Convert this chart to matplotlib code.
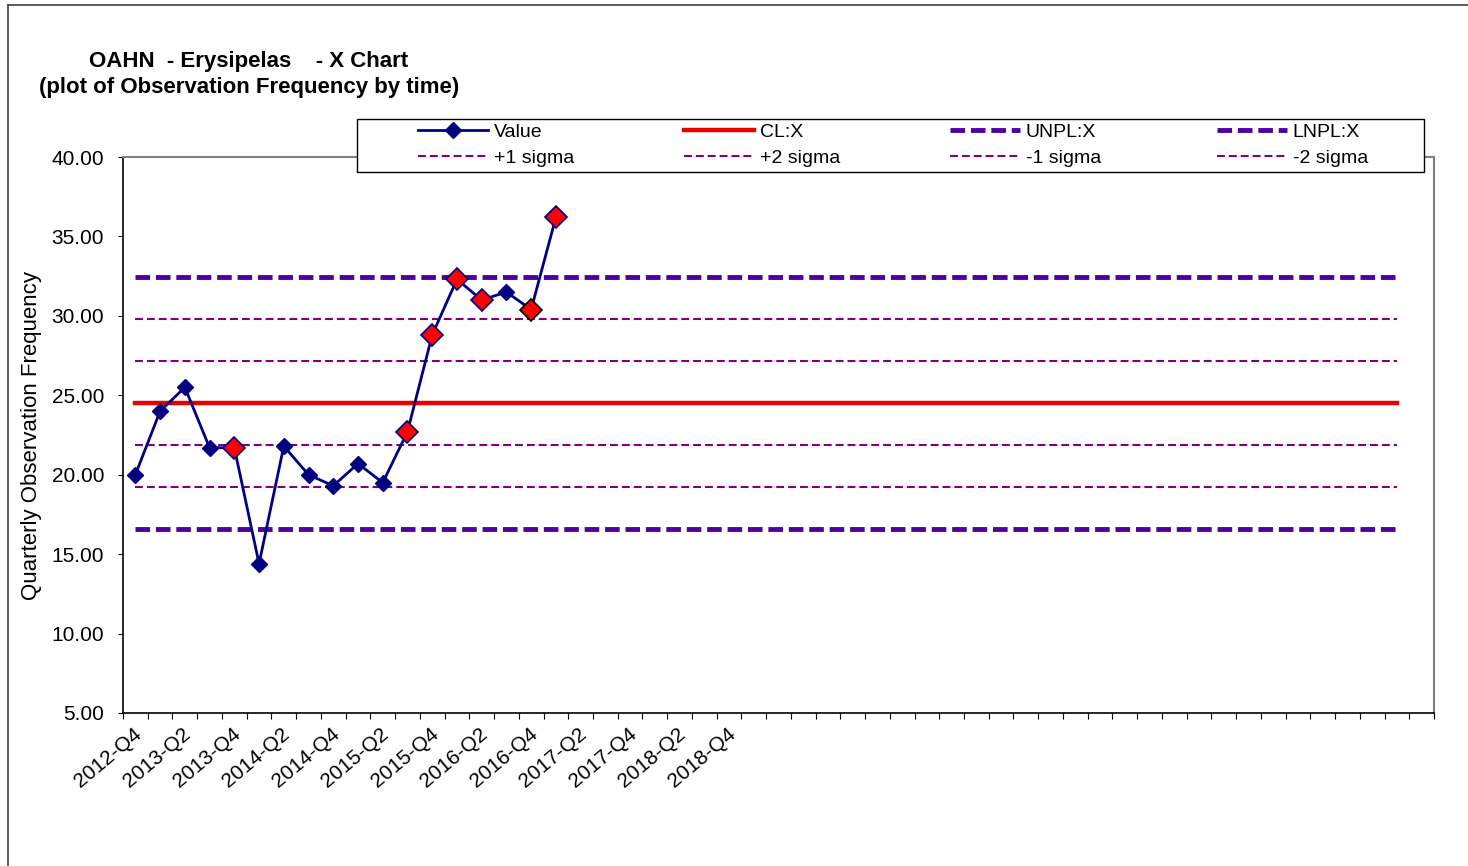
import matplotlib.pyplot as plt
import numpy as np
from matplotlib.lines import Line2D
from matplotlib.patches import Rectangle

plt.rcParams["font.family"] = ["Liberation Sans", "DejaVu Sans"]

# quarterly observations, 2012-Q4 .. 2017-Q1
values = [20.0, 24.0, 25.5, 21.7, 21.7, 14.4, 21.8, 20.0, 19.3, 20.7,
          19.5, 22.7, 28.8, 32.3, 31.0, 31.5, 30.4, 36.2]
flagged = [4, 11, 12, 13, 14, 16, 17]
tick_labels = ["2012-Q4", "2013-Q2", "2013-Q4", "2014-Q2", "2014-Q4", "2015-Q2",
               "2015-Q4", "2016-Q2", "2016-Q4", "2017-Q2", "2017-Q4", "2018-Q2",
               "2018-Q4"]

center_line = 24.51
unpl = 32.45
lnpl = 16.58
plus_1 = 27.16
plus_2 = 29.80
minus_1 = 21.87
minus_2 = 19.22

n_categories = 53
n_limit_points = 52

W, H = 1468, 866
fig = plt.figure(figsize=(W / 100, H / 100), dpi=100)
ax = fig.add_axes([123 / W, 1 - 713 / H, (1434 - 123) / W, (713 - 157) / H])

x_data = np.arange(len(values)) + 0.5
x_lim = np.arange(n_limit_points) + 0.5

sigma_style = dict(color="#800080", lw=1.5, dashes=(3.8, 1.9))
npl_style = dict(color="#5000A0", lw=3.5, dashes=(3.0, 1.2))

h_p1, = ax.plot(x_lim, np.full(n_limit_points, plus_1), **sigma_style)
h_p2, = ax.plot(x_lim, np.full(n_limit_points, plus_2), **sigma_style)
h_m1, = ax.plot(x_lim, np.full(n_limit_points, minus_1), **sigma_style)
h_m2, = ax.plot(x_lim, np.full(n_limit_points, minus_2), **sigma_style)
h_u, = ax.plot(x_lim, np.full(n_limit_points, unpl), **npl_style)
h_l, = ax.plot(x_lim, np.full(n_limit_points, lnpl), **npl_style)
h_cl, = ax.plot(x_lim, np.full(n_limit_points, center_line), color="#E80000", lw=3.2)

h_val, = ax.plot(x_data, values, color="#000080", lw=2.0, marker="D",
                 markersize=8.5, markerfacecolor="#000080", markeredgecolor="#000080")

vals = np.array(values)
for i in flagged:
    edge = "black" if i == 16 else "#000080"
    ax.plot(x_data[i], vals[i], marker="D", markersize=11.5, markerfacecolor="#FF0000",
            markeredgecolor=edge, markeredgewidth=1.2, zorder=5)

ax.set_xlim(0, n_categories)
ax.set_ylim(5, 40)
ax.set_yticks(np.arange(5, 41, 5))
ax.set_yticklabels([f"{v:.2f}" for v in np.arange(5, 41, 5)], fontsize=15)
ax.set_xticks(np.arange(n_categories + 1))
ax.set_xticklabels([])
ax.set_xticks(np.arange(len(tick_labels)) * 2 + 0.4, minor=True)
ax.set_xticklabels(tick_labels, minor=True, rotation=40, ha="right", va="top",
                   rotation_mode="anchor", fontsize=15)
ax.tick_params(axis="x", which="major", length=4, direction="out", color="black")
ax.tick_params(axis="x", which="minor", length=0, pad=8)
ax.tick_params(axis="y", length=3.6, direction="out", pad=10)

ax.spines["top"].set_color("#808080")
ax.spines["right"].set_color("#808080")
ax.spines["top"].set_linewidth(1.5)
ax.spines["right"].set_linewidth(1.5)
ax.spines["left"].set_linewidth(1.2)
ax.spines["bottom"].set_linewidth(1.2)

ax.set_ylabel("Quarterly Observation Frequency", fontsize=16, labelpad=7)

fig.text(249 / W, 1 - 62 / H, "OAHN  - Erysipelas    - X Chart", fontsize=16,
         fontweight="bold", ha="center", va="center")
fig.text(249 / W, 1 - 88 / H, "(plot of Observation Frequency by time)", fontsize=16,
         fontweight="bold", ha="center", va="center")

# legend box with four equal columns
fig.add_artist(Rectangle((357 / W, 1 - 172 / H), (1424 - 357) / W, 53 / H,
                         transform=fig.transFigure, facecolor="white",
                         edgecolor="black", lw=1.0, zorder=2))
columns = [([h_val, h_p1], ["Value", "+1 sigma"]),
           ([h_cl, h_p2], ["CL:X", "+2 sigma"]),
           ([h_u, h_m1], ["UNPL:X", "-1 sigma"]),
           ([h_l, h_m2], ["LNPL:X", "-2 sigma"])]
col_x = [418, 684, 950, 1217]
for (hs, ls), cx in zip(columns, col_x):
    fig.legend(hs, ls, loc="center left", bbox_to_anchor=(cx / W, 1 - 145 / H),
               bbox_transform=fig.transFigure, fontsize=14, frameon=False,
               handlelength=3.6, handletextpad=0.3, borderpad=0, borderaxespad=0,
               labelspacing=0.45)

# outer chart border
fig.add_artist(Line2D([8 / W, 8 / W], [0, 1 - 5 / H], color="#404040",
                      lw=1.2, transform=fig.transFigure))
fig.add_artist(Line2D([8 / W, 1], [1 - 5 / H, 1 - 5 / H], color="#404040",
                      lw=1.2, transform=fig.transFigure))

fig.savefig("out.png", dpi=100)
